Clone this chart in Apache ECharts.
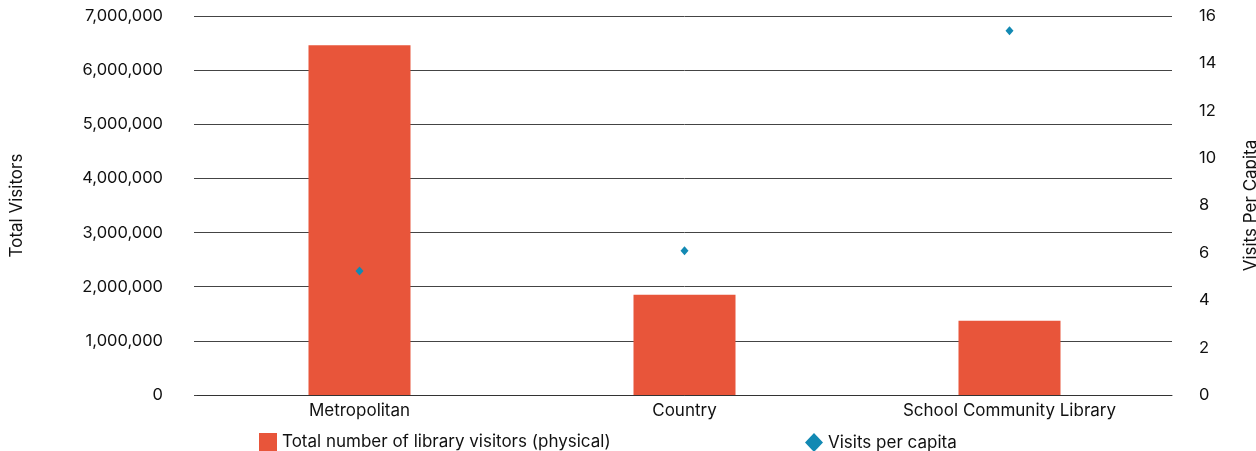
<!DOCTYPE html>
<html>
<head>
<meta charset="utf-8">
<script src="https://cdn.jsdelivr.net/npm/echarts@6/dist/echarts.min.js"></script>
<style>
html,body{margin:0;padding:0;background:#fff;overflow:hidden;}
#chart{width:1256px;height:451px;}
</style>
</head>
<body>
<div id="chart"></div>
<script>
const categories = ['Metropolitan', 'Country', 'School Community Library'];
const totalVisitors = [6460000, 1850000, 1370000];
const visitsPerCapita = [5.23, 6.09, 15.38];
const leftTicks = { min: 0, max: 7000000, interval: 1000000 };
const rightTicks = { min: 0, max: 16, interval: 2 };

const FONT = 'Inter, "Noto Sans", sans-serif';
const chart = echarts.init(document.getElementById('chart'));
chart.setOption({
  animation: false,
  textStyle: { fontFamily: FONT },
  grid: { left: 197, right: 84, top: 16, bottom: 56, containLabel: false, outerBoundsMode: 'none' },
  legend: [
    {
      data: [{ name: 'Total number of library visitors (physical)', icon: 'rect' }],
      left: 254, top: 428, itemWidth: 18, itemHeight: 18, itemGap: 6,
      textStyle: { fontSize: 17, color: '#111', fontFamily: FONT }
    },
    {
      data: [{ name: 'Visits per capita', icon: 'diamond' }],
      left: 800, top: 428, itemWidth: 18, itemHeight: 19, itemGap: 6,
      textStyle: { fontSize: 17, color: '#111', fontFamily: FONT }
    }
  ],
  xAxis: {
    type: 'category',
    data: categories,
    axisLine: { show: true, lineStyle: { color: '#333', width: 1 } },
    axisTick: { show: false },
    axisLabel: { fontSize: 17, color: '#111', margin: 7, fontFamily: FONT }
  },
  yAxis: [
    {
      type: 'value',
      min: leftTicks.min, max: leftTicks.max, interval: leftTicks.interval,
      name: 'Total Visitors', nameLocation: 'middle', nameGap: 172, nameRotate: 90,
      nameTextStyle: { fontSize: 17, color: '#111', fontFamily: FONT },
      axisLine: { show: false },
      axisTick: { show: true, length: 3, lineStyle: { color: '#444' } },
      axisLabel: {
        fontSize: 16.5, color: '#111', margin: 34, fontFamily: FONT,
        formatter: v => v.toLocaleString('en-US')
      },
      splitLine: { show: true, lineStyle: { color: '#444', width: 1 } }
    },
    {
      type: 'value',
      min: rightTicks.min, max: rightTicks.max, interval: rightTicks.interval,
      name: 'Visits Per Capita', nameLocation: 'middle', nameGap: 70, nameRotate: 90,
      nameTextStyle: { fontSize: 17, color: '#111', fontFamily: FONT },
      axisLine: { show: false },
      axisTick: { show: false },
      axisLabel: { fontSize: 16.5, color: '#111', margin: 27, fontFamily: FONT },
      splitLine: { show: false }
    }
  ],
  series: [
    {
      name: 'Total number of library visitors (physical)',
      type: 'bar',
      data: totalVisitors,
      barWidth: 102,
      itemStyle: { color: '#e8553a' },
      yAxisIndex: 0
    },
    {
      name: 'Visits per capita',
      type: 'scatter',
      data: visitsPerCapita,
      yAxisIndex: 1,
      symbol: 'diamond',
      symbolSize: [8, 9],
      itemStyle: { color: '#1289b3', opacity: 1 },
      z: 5
    }
  ]
});
</script>
</body>
</html>
